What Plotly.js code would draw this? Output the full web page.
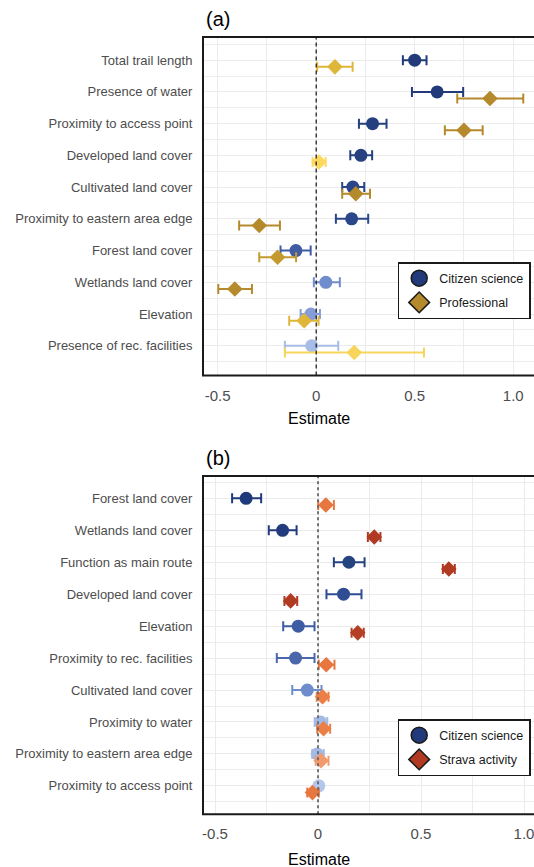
<!DOCTYPE html>
<html>
<head>
<meta charset="utf-8">
<script src="https://cdn.plot.ly/plotly-3.0.1.min.js"></script>
<style>html,body{margin:0;padding:0;background:#fff;}#chart{width:534px;height:867px;}</style>
</head>
<body>
<div id="chart"></div>
<script>
// ---------- Panel (a) data ----------
const catsA = ['Total trail length','Presence of water','Proximity to access point','Developed land cover','Cultivated land cover','Proximity to eastern area edge','Forest land cover','Wetlands land cover','Elevation','Presence of rec. facilities'];
const citA_est = [0.500, 0.614, 0.286, 0.227, 0.186, 0.180, -0.103, 0.049, -0.027, -0.023];
const citA_lo  = [0.440, 0.486, 0.217, 0.173, 0.132, 0.100, -0.181, -0.012, -0.079, -0.159];
const citA_hi  = [0.560, 0.746, 0.357, 0.284, 0.244, 0.264, -0.028, 0.120, 0.019, 0.112];
const proA_est = [0.095, 0.882, 0.750, 0.014, 0.201, -0.289, -0.196, -0.413, -0.061, 0.193];
const proA_lo  = [0.005, 0.716, 0.653, -0.018, 0.132, -0.391, -0.289, -0.497, -0.137, -0.159];
const proA_hi  = [0.185, 1.051, 0.845, 0.048, 0.273, -0.184, -0.102, -0.326, 0.012, 0.547];

// ---------- Panel (b) data ----------
const catsB = ['Forest land cover','Wetlands land cover','Function as main route','Developed land cover','Elevation','Proximity to rec. facilities','Cultivated land cover','Proximity to water','Proximity to eastern area edge','Proximity to access point'];
const citB_est = [-0.349, -0.172, 0.150, 0.124, -0.096, -0.109, -0.052, 0.012, -0.004, 0.004];
const citB_lo  = [-0.417, -0.239, 0.077, 0.041, -0.169, -0.200, -0.125, -0.016, -0.028, -0.004];
const citB_hi  = [-0.276, -0.104, 0.226, 0.211, -0.017, -0.017, 0.017, 0.045, 0.028, 0.012];
const strB_est = [0.038, 0.273, 0.635, -0.133, 0.193, 0.040, 0.022, 0.027, 0.015, -0.027];
const strB_lo  = [0.001, 0.242, 0.606, -0.163, 0.163, 0.004, -0.006, -0.004, -0.011, -0.052];
const strB_hi  = [0.077, 0.303, 0.664, -0.101, 0.222, 0.080, 0.051, 0.059, 0.051, 0.004];

const xTickVals = [-0.5, 0, 0.5, 1];
const xTickText = ['-0.5', '0', '0.5', '1.0'];

// ---------- styles (separate from data) ----------
const citA_col = ['#223a7a','#223a7a','#24407f','#25417f','#2a4588','#2b4689','#3f5ca3','#6f8ccc','#849dd8','#a7bce6'];
const proA_col = ['#dfb53a','#b58a2c','#b58a2c','#fcd95c','#b58a2c','#b58a2c','#c49a30','#b58a2c','#e0b63a','#f6d55a'];
const citB_col = ['#1f3a7a','#213b7c','#25437f','#2e4d93','#3d5ca3','#4a67ab','#6f8ccc','#a3b9e6','#a3b9e6','#b4c6ec'];
const strB_col = ['#e8763f','#b03a22','#b03a22','#b03a22','#b53f24','#e8763f','#ec7f45','#ec7f45','#f09a6d','#e8763f'];

const OFFSET = 0.21;
const traces = [];
function addSeries(cats, est, lo, hi, cols, symbol, size, off, xa, ya, name) {
  const n = cats.length;
  for (let i = 0; i < n; i++) {
    traces.push({
      type: 'scatter', mode: 'markers', xaxis: xa, yaxis: ya,
      x: [est[i]], y: [n - i - off],
      name: name + ': ' + cats[i], showlegend: false, hoverinfo: 'x+name',
      marker: {symbol: symbol, size: size, color: cols[i], line: {width: 0}},
      error_x: {type: 'data', symmetric: false, array: [hi[i] - est[i]], arrayminus: [est[i] - lo[i]],
                color: cols[i], thickness: 2, width: 5}
    });
  }
}
addSeries(catsA, citA_est, citA_lo, citA_hi, citA_col, 'circle', 13, 0, 'x', 'y', 'Citizen science');
addSeries(catsA, proA_est, proA_lo, proA_hi, proA_col, 'diamond', 12, OFFSET, 'x', 'y', 'Professional');
addSeries(catsB, citB_est, citB_lo, citB_hi, citB_col, 'circle', 13, 0, 'x2', 'y2', 'Citizen science');
addSeries(catsB, strB_est, strB_lo, strB_hi, strB_col, 'diamond', 12, OFFSET, 'x2', 'y2', 'Strava activity');

// legend entries
function legendTrace(name, symbol, color, xa, ya, leg, grp) {
  return {type: 'scatter', mode: 'markers', x: [null], y: [null], xaxis: xa, yaxis: ya,
          name: name, legend: leg, legendgroup: grp, showlegend: true,
          marker: {symbol: symbol, size: 18, color: color, line: {width: 1.5, color: '#1a1a1a'}}};
}
traces.push(legendTrace('Citizen science', 'circle', '#223a7a', 'x', 'y', 'legend', 'a1'));
traces.push(legendTrace('Professional', 'diamond', '#b58a2c', 'x', 'y', 'legend', 'a2'));
traces.push(legendTrace('Citizen science', 'circle', '#223a7a', 'x2', 'y2', 'legend2', 'b1'));
traces.push(legendTrace('Strava activity', 'diamond', '#b03a22', 'x2', 'y2', 'legend2', 'b2'));

const W = 534, H = 867;
const fontFam = 'Liberation Sans, Arial, sans-serif';
function xAxis(range, anchor) {
  return {
    domain: [203 / W, 1], anchor: anchor, range: range, automargin: false,
    tickmode: 'array', tickvals: xTickVals, ticktext: xTickText,
    ticks: 'outside', ticklen: 6, tickcolor: 'rgba(0,0,0,0)',
    ticklabeloverflow: 'allow',
    tickfont: {family: fontFam, size: 15, color: '#4d4d4d'},
    showgrid: true, gridcolor: '#ebebeb', gridwidth: 1, zeroline: false,
    minor: {tickmode: 'linear', tick0: 0, dtick: 0.25, showgrid: true, gridcolor: '#ececec', gridwidth: 1},
    showline: false
  };
}
function yAxis(cats, range, domain, anchor) {
  const n = cats.length;
  return {
    domain: domain, anchor: anchor, range: range, automargin: false,
    tickmode: 'array', tickvals: cats.map((c, i) => n - i), ticktext: cats,
    ticks: 'outside', ticklen: 7, tickcolor: 'rgba(0,0,0,0)',
    tickfont: {family: fontFam, size: 13, color: '#4d4d4d'},
    showgrid: true, gridcolor: '#ebebeb', gridwidth: 1, zeroline: false,
    minor: {tickmode: 'linear', tick0: 0.5, dtick: 1, showgrid: true, gridcolor: '#ececec', gridwidth: 1},
    showline: false
  };
}

const layout = {
  width: W, height: H, margin: {l: 0, r: 0, t: 0, b: 0},
  paper_bgcolor: '#ffffff', plot_bgcolor: '#ffffff',
  font: {family: fontFam},
  showlegend: true,
  xaxis: xAxis([-0.5745, 1.1055], 'y'),
  yaxis: yAxis(catsA, [0.06, 10.73], [1 - 375.6 / H, 1 - 37 / H], 'x'),
  xaxis2: xAxis([-0.5583, 1.0485], 'y2'),
  yaxis2: yAxis(catsB, [0.11, 10.70], [1 - 814.3 / H, 1 - 476 / H], 'x2'),
  legend: {x: 397.7 / W, xanchor: 'left', y: 1 - 262 / H, yanchor: 'top',
           bgcolor: '#ffffff', bordercolor: '#1a1a1a', borderwidth: 1.5,
           font: {family: fontFam, size: 12.5, color: '#1a1a1a'},
           traceorder: 'grouped', tracegroupgap: 5, itemclick: false},
  legend2: {x: 397.7 / W, xanchor: 'left', y: 1 - 719 / H, yanchor: 'top',
            bgcolor: '#ffffff', bordercolor: '#1a1a1a', borderwidth: 1.5,
            font: {family: fontFam, size: 12.5, color: '#1a1a1a'},
            traceorder: 'grouped', tracegroupgap: 5, itemclick: false},
  shapes: [
    {type: 'line', xref: 'x', yref: 'y domain', x0: 0, x1: 0, y0: 0, y1: 1,
     line: {color: '#111111', width: 1.2, dash: '4px,3px'}, layer: 'above'},
    {type: 'line', xref: 'x2', yref: 'y2 domain', x0: 0, x1: 0, y0: 0, y1: 1,
     line: {color: '#666666', width: 1.8, dash: '3px,3px'}, layer: 'above'},
    {type: 'rect', xref: 'x domain', yref: 'y domain', x0: 0, x1: 1.02, y0: 0, y1: 1,
     line: {color: '#1a1a1a', width: 2}, fillcolor: 'rgba(0,0,0,0)', layer: 'above'},
    {type: 'rect', xref: 'x2 domain', yref: 'y2 domain', x0: 0, x1: 1.02, y0: 0, y1: 1,
     line: {color: '#1a1a1a', width: 2}, fillcolor: 'rgba(0,0,0,0)', layer: 'above'}
  ],
  annotations: [
    {text: '(a)', xref: 'paper', yref: 'paper', x: 204 / W, y: 1 - 19 / H, xanchor: 'left', yanchor: 'middle',
     showarrow: false, font: {family: fontFam, size: 20, color: '#000'}},
    {text: '(b)', xref: 'paper', yref: 'paper', x: 204 / W, y: 1 - 458 / H, xanchor: 'left', yanchor: 'middle',
     showarrow: false, font: {family: fontFam, size: 20, color: '#000'}},
    {text: 'Estimate', xref: 'paper', yref: 'paper', x: 319 / W, y: 1 - 418 / H, xanchor: 'center', yanchor: 'middle',
     showarrow: false, font: {family: fontFam, size: 16, color: '#000'}},
    {text: 'Estimate', xref: 'paper', yref: 'paper', x: 319 / W, y: 1 - 859 / H, xanchor: 'center', yanchor: 'middle',
     showarrow: false, font: {family: fontFam, size: 16, color: '#000'}}
  ]
};

Plotly.newPlot('chart', traces, layout, {staticPlot: true, displayModeBar: false});
</script>
</body>
</html>
